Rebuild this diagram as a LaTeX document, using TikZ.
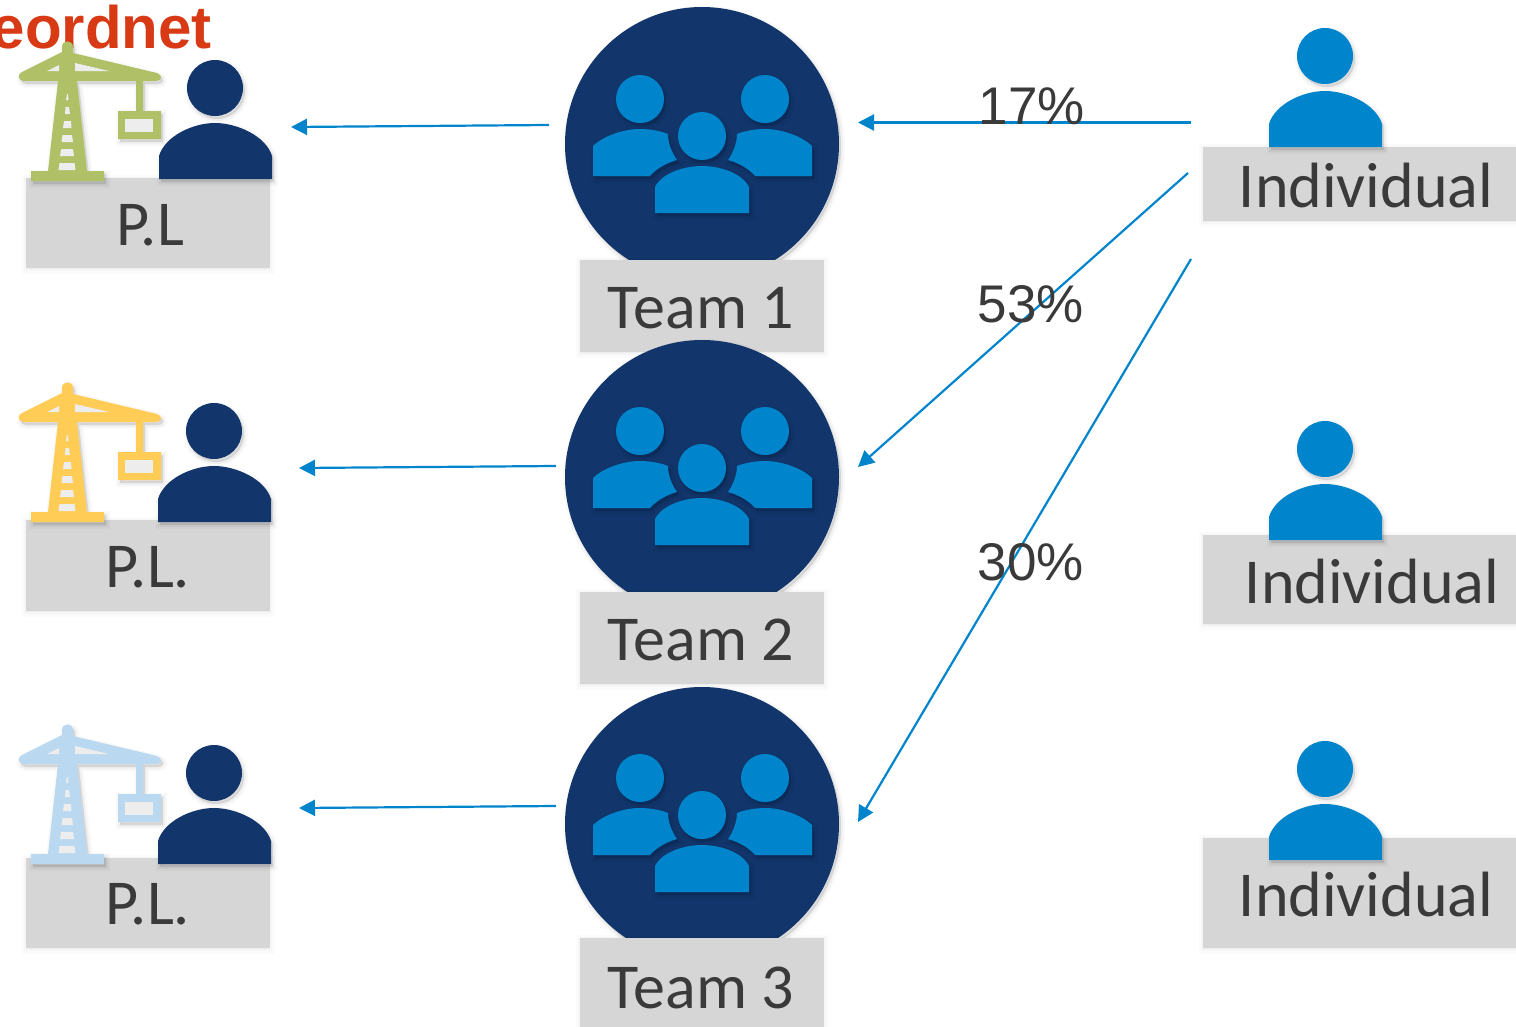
\documentclass[tikz,border=0pt]{standalone}
\usepackage{fontspec}
\setmainfont{Carlito}
\newfontfamily\arialfont{Liberation Sans}
\usetikzlibrary{arrows.meta}
\definecolor{navy}{HTML}{12366B}
\definecolor{midblue}{HTML}{0085CC}
\definecolor{panel}{HTML}{D6D6D6}
\definecolor{inktext}{HTML}{3A3A3A}
\definecolor{brandred}{HTML}{D73A14}
\definecolor{cranegreen}{HTML}{AFC066}
\definecolor{craneyellow}{HTML}{FFCC55}
\definecolor{craneblue}{HTML}{BAD9F0}
\definecolor{holegrey}{HTML}{EDEDED}
\tikzset{
  softsh/.style={
    preaction={draw=black,fill=black,opacity=.025,line width=8pt,transform canvas={shift={(2pt,-3pt)}}},
    preaction={draw=black,fill=black,opacity=.035,line width=4pt,transform canvas={shift={(2pt,-3pt)}}},
    preaction={fill=black,opacity=.05,transform canvas={shift={(2pt,-3pt)}}}},
  boxsh/.style={
    preaction={draw=black,fill=black,opacity=.015,line width=9pt,transform canvas={shift={(0pt,-1pt)}}},
    preaction={draw=black,fill=black,opacity=.02,line width=4pt,transform canvas={shift={(0pt,-1pt)}}}},
  labelbox/.style={fill=panel,inner sep=0pt,boxsh},
  labeltext/.style={text=inktext,font=\fontsize{64}{66}\selectfont,inner sep=0pt},
  teamdisc/.style={circle,fill=navy,minimum size=274pt,inner sep=0pt,softsh},
  link/.style={draw=midblue,line width=2.2pt,-{Triangle[length=16pt,width=16pt]}},
  pct/.style={text=inktext,font=\arialfont\fontsize{53}{55}\selectfont,inner sep=0pt},
}
% head centre at #1,#2 ; colour #3
\newcommand{\personfig}[3]{%
  \begin{scope}[shift={(#1,#2)}]
    \fill[#3,softsh] (0,0) circle[radius=28];
    \fill[#3,softsh] (-56,91) -- (-56,68) .. controls (-50,48) and (-22,35) .. (0,35)
      .. controls (22,35) and (51,48) .. (57,68) -- (57,91) -- cycle;
  \end{scope}}
% disc centre at #1,#2
\newcommand{\teamfig}[2]{%
  \begin{scope}[shift={(#1,#2)}]
    \fill[midblue,softsh] (-62,-44) circle[radius=24];
    \fill[midblue,softsh] (63,-44) circle[radius=24];
    \fill[midblue,softsh] (-109,33) -- (-109,3) .. controls (-100,-6) and (-80,-14) .. (-62,-14)
      .. controls (-52,-14) and (-41,-12) .. (-34,-9)
      .. controls (-34,0) and (-30,10) .. (-25,17)
      .. controls (-36,20) and (-46,26) .. (-52,33) -- cycle;
    \fill[midblue,softsh] (110,33) -- (110,3) .. controls (101,-6) and (81,-14) .. (63,-14)
      .. controls (53,-14) and (42,-12) .. (35,-9)
      .. controls (35,0) and (31,10) .. (26,17)
      .. controls (37,20) and (47,26) .. (53,33) -- cycle;
    \fill[midblue,softsh] (0,-7) circle[radius=24];
    \fill[midblue,softsh] (-47,70) -- (-47,44) .. controls (-40,30) and (-18,23) .. (0,23)
      .. controls (18,23) and (40,30) .. (47,44) -- (47,70) -- cycle;
  \end{scope}}
% crane with y offset #1, colour #2
\newcommand{\cranefig}[2]{%
  \begin{scope}[shift={(0,#1)}]
    \fill[#2,softsh]
      (62,52) -- (62,47) .. controls (62,39.5) and (73,39.5) .. (73,47) -- (73,53)
      -- (157,73) .. controls (163,75) and (162,81) .. (156,81)
      -- (143,81) -- (143,111) -- (161,111) -- (161,139) -- (118,139) -- (118,111) -- (136,111) -- (136,81)
      -- (77,81) -- (87,171) -- (104,171) -- (104,181) -- (31,181) -- (31,171) -- (48,171) -- (58,81)
      -- (24,81) .. controls (18,81) and (17,74) .. (22,72) -- cycle;
    \fill[holegrey] (47,71) -- (59,65) -- (59,71) -- cycle;
    \fill[holegrey] (75,63) -- (109,71) -- (75,71) -- cycle;
    \fill[holegrey] (125,119) rectangle (153,132);
    \fill[holegrey] (67,94) -- (68,94) -- (68.5,100) -- (66,100) -- cycle;
    \fill[holegrey] (65.5,107) -- (69,107) -- (70,114) -- (65,114) -- cycle;
    \fill[holegrey] (64,121) -- (71,121) -- (71.5,128) -- (63,128) -- cycle;
    \fill[holegrey] (62.5,135) -- (72,135) -- (73,142) -- (61.5,142) -- cycle;
    \fill[holegrey] (61,149) -- (73,149) -- (74,156) -- (60,156) -- cycle;
    \fill[holegrey] (59.5,163) -- (74.5,163) -- (75.5,170) -- (58.5,170) -- cycle;
  \end{scope}}
\begin{document}
\begin{tikzpicture}[x=1pt,y=-1pt]
\useasboundingbox (0,0) rectangle (1516,1026);
\fill[white] (0,0) rectangle (1516,1026);

% brand text
\node[anchor=base east,inner sep=0pt,text=brandred,font=\arialfont\bfseries\fontsize{60}{62}\selectfont] (brand) at (212,48) {eordnet};

% project leaders
\node[labelbox,minimum width=244pt,minimum height=90pt] (plbox1) at (148,223) {};
\node[labeltext] (pl1) at (150,225) {P.L};
\cranefig{0}{cranegreen}
\personfig{215}{88}{navy}

\node[labelbox,minimum width=244pt,minimum height=91pt] (plbox2) at (148,565.5) {};
\node[labeltext] (pl2) at (148,567) {P.L.};
\cranefig{341}{craneyellow}
\personfig{214}{431}{navy}

\node[labelbox,minimum width=244pt,minimum height=90pt] (plbox3) at (148,903) {};
\node[labeltext] (pl3) at (148,904) {P.L.};
\cranefig{683}{craneblue}
\personfig{214}{773}{navy}

% teams
\node[teamdisc] (disc1) at (702,144) {};
\teamfig{702}{143}
\node[labelbox,minimum width=244pt,minimum height=92pt] (team1box) at (702,306) {};
\node[labeltext] (team1) at (701,308) {Team 1};

\node[teamdisc] (disc2) at (702,477) {};
\teamfig{702}{475}
\node[labelbox,minimum width=244pt,minimum height=92pt] (team2box) at (702,638) {};
\node[labeltext] (team2) at (701,640) {Team 2};

\node[teamdisc] (disc3) at (702,824) {};
\teamfig{702}{822}
\node[labelbox,minimum width=244pt,minimum height=90pt] (team3box) at (702,983) {};
\node[labeltext] (team3) at (701,988) {Team 3};

% individuals
\node[labelbox,minimum width=313pt,minimum height=74pt] (ind1box) at (1359.5,184) {};
\node[labeltext] (ind1) at (1366,186) {Individual};
\personfig{1325}{56}{midblue}
\node[labelbox,minimum width=313pt,minimum height=89pt] (ind2box) at (1359.5,579.5) {};
\node[labeltext] (ind2) at (1372,582) {Individual};
\personfig{1325}{449}{midblue}
\node[labelbox,minimum width=313pt,minimum height=110pt] (ind3box) at (1359.5,893) {};
\node[labeltext] (ind3) at (1366,895) {Individual};
\personfig{1325}{769}{midblue}

% connector ends
\coordinate (t1out) at (549,125);
\coordinate (pl1in) at (291,127);
\coordinate (t2out) at (556,466);
\coordinate (pl2in) at (299,468);
\coordinate (t3out) at (556,806);
\coordinate (pl3in) at (299,808);
\coordinate (i1a) at (1191,122.5);
\coordinate (i1b) at (1188,173);
\coordinate (i1c) at (1191,259);
\coordinate (t1in) at (858,122.5);
\coordinate (t2in) at (858,467);
\coordinate (t3in) at (858,822);

\draw[link] (t1out) -- (pl1in);
\draw[link] (t2out) -- (pl2in);
\draw[link] (t3out) -- (pl3in);
\draw[link] (i1a) -- (t1in);
\draw[link] (i1b) -- (t2in);
\draw[link] (i1c) -- (t3in);

\node[pct] (p17) at (1032,106.5) {17\%};
\node[pct] (p53) at (1031,304.5) {53\%};
\node[pct] (p30) at (1031,562.5) {30\%};
\end{tikzpicture}
\end{document}
